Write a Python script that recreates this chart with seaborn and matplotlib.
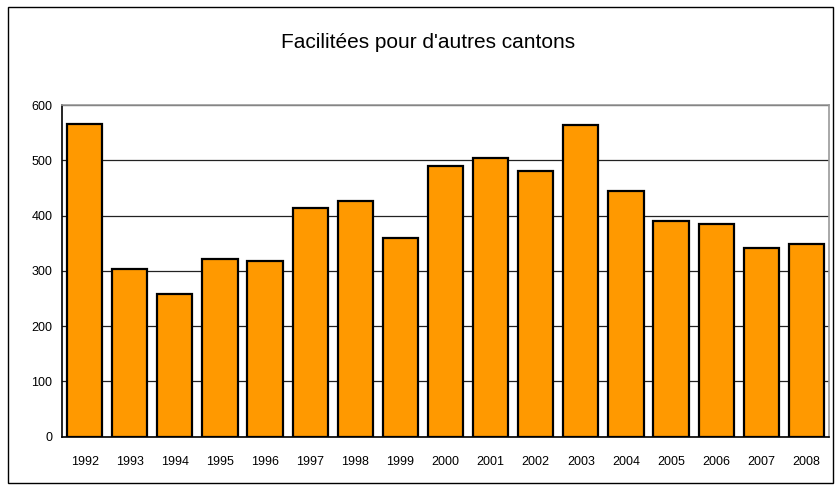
import numpy as np
import pandas as pd
import matplotlib.pyplot as plt
from matplotlib.patches import Rectangle
import seaborn as sns

years = [str(y) for y in range(1992, 2009)]
values = [565, 303, 258, 321, 317, 413, 426, 359, 490, 504, 480, 564, 445, 391, 385, 342, 349]

df = pd.DataFrame({"year": years, "value": values})

sns.set_style("white")
plt.rcParams["font.family"] = ["Liberation Sans", "DejaVu Sans"]
plt.rcParams["text.color"] = "black"

fig = plt.figure(figsize=(8.36, 4.88), dpi=100)
ax = fig.add_axes([0.0742, 0.1051, 0.9174, 0.6797])

sns.barplot(x="year", y="value", data=df, ax=ax, color="#FF9900", saturation=1,
            edgecolor="black", linewidth=1.6, width=0.78, zorder=3)

ax.set_ylim(0, 600)
ax.set_xlim(-0.5, len(years) - 0.5)
ax.set_yticks(range(0, 601, 100))
ax.yaxis.grid(True, color="#222222", linewidth=0.9, zorder=0)
ax.set_axisbelow(True)
ax.set_xlabel("")
ax.set_ylabel("")

# x ticks sit between categories
ax.set_xticks(np.arange(-0.5, len(years), 1), minor=True)
ax.tick_params(axis="x", which="major", length=0, labelsize=9, pad=14, colors="black")
ax.tick_params(axis="x", which="minor", length=4, width=1, color="black", direction="out")
ax.tick_params(axis="y", length=4, width=1, labelsize=9, colors="black", direction="out", pad=3)

for side in ["left", "bottom"]:
    ax.spines[side].set_color("black")
    ax.spines[side].set_linewidth(1.2)
for side in ["top", "right"]:
    ax.spines[side].set_color("#999999")
    ax.spines[side].set_linewidth(1.2)

fig.text(0.512, 0.912, "Facilitées pour d'autres cantons", ha="center", va="center",
         fontsize=15, color="black")

fig.patches.append(Rectangle((0.0096, 0.01), 0.987, 0.975, transform=fig.transFigure,
                             fill=False, edgecolor="black", linewidth=1))

plt.savefig("out.png", dpi=100)
